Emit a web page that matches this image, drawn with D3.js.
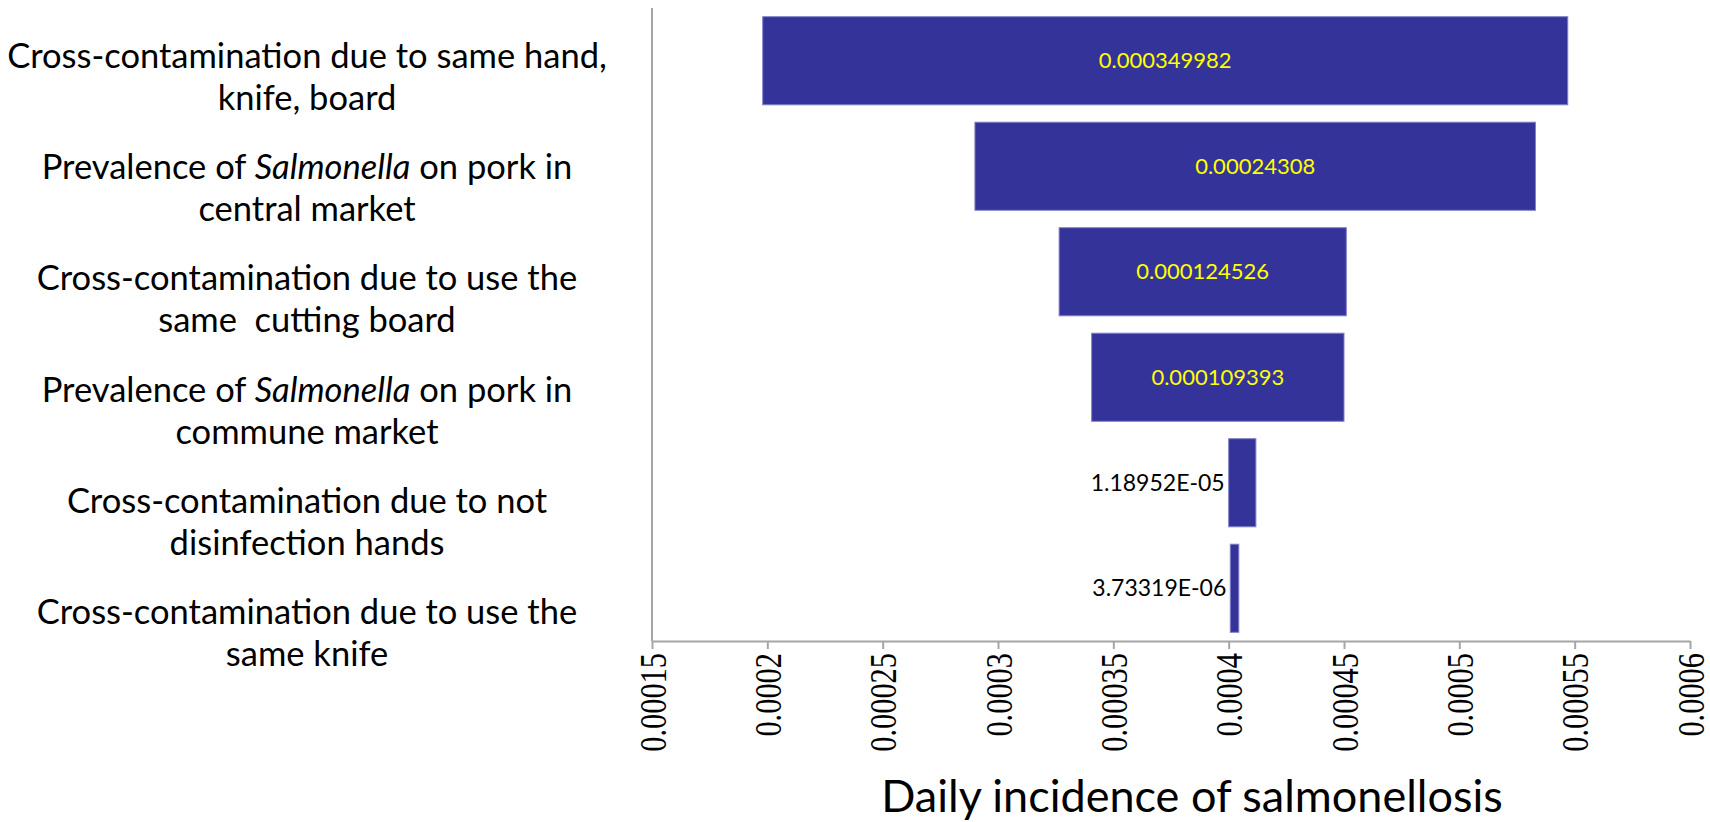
<!DOCTYPE html>
<html>
<head>
<meta charset="utf-8">
<script src="https://cdn.jsdelivr.net/npm/d3@7"></script>
<style>
  body { margin: 0; background: #fff; }
  svg { display: block; }
</style>
</head>
<body>
<svg id="chart" width="1710" height="822"></svg>
<script>
// categories, top to bottom (*...* = italic)
var categories = [
  ["Cross-contamination due to same hand,", "knife, board"],
  ["Prevalence of *Salmonella* on pork in", "central market"],
  ["Cross-contamination due to use the", "same  cutting board"],
  ["Prevalence of *Salmonella* on pork in", "commune market"],
  ["Cross-contamination due to not", "disinfection hands"],
  ["Cross-contamination due to use the", "same knife"]
];
// bar ends
var lowValues = [0.000198, 0.000290, 0.0003265, 0.0003406, 0.0004, 0.0004007];
var highValues = [0.000547, 0.000533, 0.000451, 0.00045, 0.0004118, 0.0004044];
// data labels as printed on the chart
var barLabels = ["0.000349982", "0.00024308", "0.000124526", "0.000109393", "1.18952E-05", "3.73319E-06"];
var tickValues = [0.00015, 0.0002, 0.00025, 0.0003, 0.00035, 0.0004, 0.00045, 0.0005, 0.00055, 0.0006];
var axisTitle = "Daily incidence of salmonellosis";

var svg = d3.select("#chart");
var plotLeft = 652, plotRight = 1690, plotTop = 8, plotBottom = 641;

var x = d3.scaleLinear().domain([0.00015, 0.0006]).range([plotLeft, plotRight]);
var y = d3.scaleBand()
  .domain(d3.range(categories.length))
  .range([plotTop, plotBottom])
  .paddingInner(0.165)
  .paddingOuter(0.0825);
// the category texts sit on their own, slightly looser spacing
var yLabel = d3.scalePoint().domain(d3.range(categories.length)).range([75, 631]);

// bars
svg.append("g")
  .selectAll("rect")
  .data(d3.range(categories.length))
  .enter()
  .append("rect")
  .attr("x", function (i) { return x(lowValues[i]); })
  .attr("y", function (i) { return y(i); })
  .attr("width", function (i) { return x(highValues[i]) - x(lowValues[i]); })
  .attr("height", y.bandwidth())
  .attr("fill", "#333399")
  .attr("stroke", "#8080c8")
  .attr("stroke-width", 1);

// data labels
svg.append("g")
  .selectAll("text")
  .data(d3.range(categories.length))
  .enter()
  .append("text")
  .attr("font-family", "Lato, sans-serif")
  .attr("dy", "0.35em")
  .attr("y", function (i) { return y(i) + y.bandwidth() / 2; })
  .each(function (i) {
    var t = d3.select(this);
    var w = x(highValues[i]) - x(lowValues[i]);
    if (w > 160) {
      t.attr("x", (x(highValues[i]) + x(lowValues[i])) / 2)
        .attr("text-anchor", "middle")
        .attr("font-size", 22)
        .attr("fill", "#ffff00");
    } else {
      t.attr("x", x(lowValues[i]) - 4)
        .attr("text-anchor", "end")
        .attr("font-size", 23)
        .attr("fill", "#000");
    }
  })
  .text(function (i) { return barLabels[i]; });

// y axis line
svg.append("line")
  .attr("x1", plotLeft).attr("x2", plotLeft)
  .attr("y1", plotTop).attr("y2", plotBottom)
  .attr("stroke", "#a6a6a6")
  .attr("stroke-width", 2);

// x axis
var xAxis = d3.axisBottom(x)
  .tickValues(tickValues)
  .tickSize(8)
  .tickSizeOuter(0)
  .tickFormat(function (d) { return String(d); });

var gX = svg.append("g")
  .attr("transform", "translate(0," + plotBottom + ")")
  .call(xAxis);
gX.select(".domain").attr("stroke", "#a6a6a6").attr("stroke-width", 2);
gX.selectAll(".tick line").attr("stroke", "#a6a6a6").attr("stroke-width", 2);
gX.selectAll(".tick text")
  .attr("font-family", "'Liberation Serif', 'Times New Roman', serif")
  .attr("font-size", 38)
  .attr("fill", "#000")
  .attr("text-anchor", "end")
  .attr("x", 0)
  .attr("y", 0)
  .attr("dy", "0.35em")
  .attr("transform", "translate(0,12) rotate(-90) scale(0.8,1)");

// axis title
svg.append("text")
  .attr("x", 1192)
  .attr("y", 812)
  .attr("text-anchor", "middle")
  .attr("font-family", "Lato, sans-serif")
  .attr("font-size", 45)
  .attr("fill", "#000")
  .text(axisTitle);

// category labels
var labels = svg.append("g")
  .attr("font-family", "Lato, sans-serif")
  .attr("font-size", 34.5)
  .attr("fill", "#000")
  .attr("text-anchor", "middle");

categories.forEach(function (lines, i) {
  var c = yLabel(i);
  lines.forEach(function (line, k) {
    var t = labels.append("text")
      .attr("x", 307)
      .attr("y", c - 7 + k * 42)
      .attr("xml:space", "preserve");
    line.split("*").forEach(function (part, p) {
      if (part === "") return;
      t.append("tspan")
        .attr("font-style", p % 2 === 1 ? "italic" : "normal")
        .text(part);
    });
  });
});
</script>
</body>
</html>
